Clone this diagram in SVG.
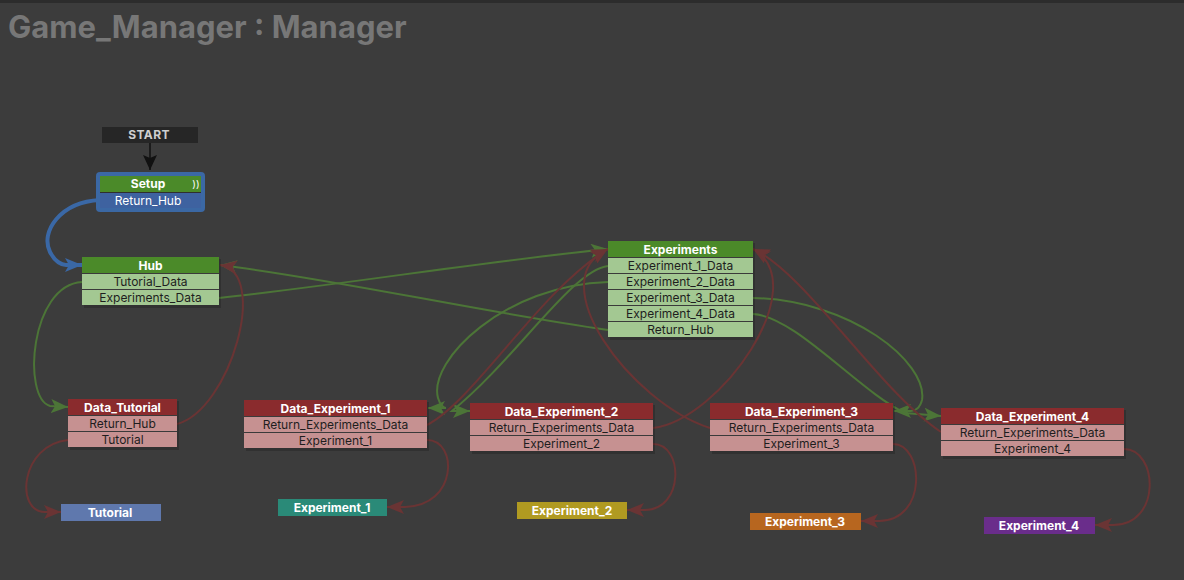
<svg xmlns="http://www.w3.org/2000/svg" width="1184" height="580" viewBox="0 0 1184 580">
<style>
text{font-family:Inter,"Noto Sans","Liberation Sans",sans-serif;text-anchor:middle}
.title{font-size:31px;font-weight:700;fill:#777;text-anchor:start}
.h{font-size:12px;font-weight:700;fill:#fff}
.r{font-size:12px;fill:#1e1e1e}
.rw{font-size:12px;fill:#fff}
.gh{fill:#4b8a29}
.gr{fill:#a3c892}
.rh{fill:#8a2b2d}
.rr{fill:#c69191}
.shadow{fill:#000;opacity:0.18}
.eg{fill:none;stroke:#4c7537;stroke-width:2}
.er{fill:none;stroke:#6a3434;stroke-width:2}
.eb{fill:none;stroke:#3a68a6;stroke-width:4}
.ek{fill:none;stroke:#111;stroke-width:1.5}
</style>
<defs>
<marker id="ag" markerUnits="userSpaceOnUse" markerWidth="18" markerHeight="14" refX="17" refY="7" orient="auto"><path d="M0,0 L17,7 L0,14 L4,7 Z" fill="#4c7537"/></marker>
<marker id="ar" markerUnits="userSpaceOnUse" markerWidth="18" markerHeight="14" refX="17" refY="7" orient="auto"><path d="M0,0 L17,7 L0,14 L4,7 Z" fill="#6a3434"/></marker>
<marker id="ab" markerUnits="userSpaceOnUse" markerWidth="18" markerHeight="14" refX="17" refY="7" orient="auto"><path d="M0,0 L17,7 L0,14 L4,7 Z" fill="#3a68a6"/></marker>
<marker id="ak" markerUnits="userSpaceOnUse" markerWidth="16" markerHeight="14" refX="15" refY="7" orient="auto"><path d="M0,0 L15,7 L0,14 L3,7 Z" fill="#111"/></marker>
</defs>
<rect x="0" y="0" width="1184" height="580" fill="#3c3c3c"/>
<rect x="0" y="0" width="1184" height="3" fill="#2c2c2c"/>
<text class="title" x="8" y="38">Game_Manager : Manager</text>

<g id="connectors">
<path class="ek" d="M150,143 L150,170" marker-end="url(#ak)"/>
<path class="eb" d="M100,200 C60,202 40,232 50,252 C55,262 62,265 66,265 L82,265" marker-end="url(#ab)"/>
<path class="eg" d="M82,282 C30,285 22,398 50,406 L68,407" marker-end="url(#ag)"/>
<path class="eg" d="M219,298 C340,285 480,262 608,249" marker-end="url(#ag)"/>
<path class="eg" d="M608,330 C470,310 340,280 220,265" marker-end="url(#ag)"/>
<path class="eg" d="M608,266 C572,270 515,360 452,411 L470,411" marker-end="url(#ag)"/>
<path class="eg" d="M608,282 C505,285 428,360 438,398 C440,405 444,408 446,408 L428,408" marker-end="url(#ag)"/>
<path class="eg" d="M753,298 C850,300 928,362 922,400 C920,408 915,411 911,411 L894,411" marker-end="url(#ag)"/>
<path class="eg" d="M753,314 C795,316 860,392 905,413 L941,416" marker-end="url(#ag)"/>
<path class="er" d="M177,424 C230,410 270,272 220,265" marker-end="url(#ar)"/>
<path class="er" d="M427,425 C475,400 540,290 608,249" marker-end="url(#ar)"/>
<path class="er" d="M710,428 C630,402 540,280 608,249" marker-end="url(#ar)"/>
<path class="er" d="M653,428 C720,420 815,285 753,249" marker-end="url(#ar)"/>
<path class="er" d="M941,432 C880,392 805,272 753,249" marker-end="url(#ar)"/>
<path class="er" d="M68,440 C20,445 15,512 45,512 L61,512" marker-end="url(#ar)"/>
<path class="er" d="M427,440 C458,440 458,506 405,507 L387,507" marker-end="url(#ar)"/>
<path class="er" d="M653,444 C684,444 684,510 645,510 L627,510" marker-end="url(#ar)"/>
<path class="er" d="M893,444 C924,444 928,521 879,521 L861,521" marker-end="url(#ar)"/>
<path class="er" d="M1124,449 C1158,449 1162,525 1113,525 L1095,525" marker-end="url(#ar)"/>
</g>

<g id="start">
<rect x="102" y="127" width="96" height="16" fill="#262626"/>
<text x="149" y="139" style="font-size:12px;font-weight:700;fill:#cfcfcf;letter-spacing:0.4px">START</text>
</g>

<g id="setup">
<rect x="96" y="172" width="109" height="40" rx="4" fill="#3b68a4"/>
<rect x="100" y="176" width="101" height="32" fill="#2f2f2f"/>
<rect x="100" y="176" width="101" height="16" class="gh"/>
<rect x="100" y="193" width="101" height="15" fill="#3e62a0"/>
<text class="h" x="148" y="188">Setup</text>
<text x="196" y="188" style="font-size:10px;fill:#fff">))</text>
<text class="rw" x="148" y="205">Return_Hub</text>
</g>

<g id="hub">
<rect class="shadow" x="84" y="259" width="137" height="49"/>
<rect x="82" y="257" width="137" height="48" fill="#3a3a3a"/>
<rect class="gh" x="82" y="257" width="137" height="16"/>
<rect class="gr" x="82" y="274" width="137" height="15"/>
<rect class="gr" x="82" y="290" width="137" height="15"/>
<text class="h" x="150.5" y="270">Hub</text>
<text class="r" x="150.5" y="286">Tutorial_Data</text>
<text class="r" x="150.5" y="302">Experiments_Data</text>
</g>

<g id="experiments">
<rect class="shadow" x="610" y="243" width="145" height="97"/>
<rect x="608" y="241" width="145" height="96" fill="#3a3a3a"/>
<rect class="gh" x="608" y="241" width="145" height="16"/>
<rect class="gr" x="608" y="258" width="145" height="15"/>
<rect class="gr" x="608" y="274" width="145" height="15"/>
<rect class="gr" x="608" y="290" width="145" height="15"/>
<rect class="gr" x="608" y="306" width="145" height="15"/>
<rect class="gr" x="608" y="322" width="145" height="15"/>
<text class="h" x="680.5" y="254">Experiments</text>
<text class="r" x="680.5" y="270">Experiment_1_Data</text>
<text class="r" x="680.5" y="286">Experiment_2_Data</text>
<text class="r" x="680.5" y="302">Experiment_3_Data</text>
<text class="r" x="680.5" y="318">Experiment_4_Data</text>
<text class="r" x="680.5" y="334">Return_Hub</text>
</g>

<g id="data_tutorial">
<rect class="shadow" x="70" y="401" width="109" height="49"/>
<rect x="68" y="399" width="109" height="48" fill="#3a3a3a"/>
<rect class="rh" x="68" y="399" width="109" height="16"/>
<rect class="rr" x="68" y="416" width="109" height="15"/>
<rect class="rr" x="68" y="432" width="109" height="15"/>
<text class="h" x="122.5" y="412">Data_Tutorial</text>
<text class="r" x="122.5" y="428">Return_Hub</text>
<text class="r" x="122.5" y="444">Tutorial</text>
</g>

<g id="data_experiment_1">
<rect class="shadow" x="246" y="402" width="183" height="49"/>
<rect x="244" y="400" width="183" height="48" fill="#3a3a3a"/>
<rect class="rh" x="244" y="400" width="183" height="16"/>
<rect class="rr" x="244" y="417" width="183" height="15"/>
<rect class="rr" x="244" y="433" width="183" height="15"/>
<text class="h" x="335.5" y="413">Data_Experiment_1</text>
<text class="r" x="335.5" y="429">Return_Experiments_Data</text>
<text class="r" x="335.5" y="445">Experiment_1</text>
</g>

<g id="data_experiment_2">
<rect class="shadow" x="472" y="405" width="183" height="49"/>
<rect x="470" y="403" width="183" height="48" fill="#3a3a3a"/>
<rect class="rh" x="470" y="403" width="183" height="16"/>
<rect class="rr" x="470" y="420" width="183" height="15"/>
<rect class="rr" x="470" y="436" width="183" height="15"/>
<text class="h" x="561.5" y="416">Data_Experiment_2</text>
<text class="r" x="561.5" y="432">Return_Experiments_Data</text>
<text class="r" x="561.5" y="448">Experiment_2</text>
</g>

<g id="data_experiment_3">
<rect class="shadow" x="712" y="405" width="183" height="49"/>
<rect x="710" y="403" width="183" height="48" fill="#3a3a3a"/>
<rect class="rh" x="710" y="403" width="183" height="16"/>
<rect class="rr" x="710" y="420" width="183" height="15"/>
<rect class="rr" x="710" y="436" width="183" height="15"/>
<text class="h" x="801.5" y="416">Data_Experiment_3</text>
<text class="r" x="801.5" y="432">Return_Experiments_Data</text>
<text class="r" x="801.5" y="448">Experiment_3</text>
</g>

<g id="data_experiment_4">
<rect class="shadow" x="943" y="410" width="183" height="49"/>
<rect x="941" y="408" width="183" height="48" fill="#3a3a3a"/>
<rect class="rh" x="941" y="408" width="183" height="16"/>
<rect class="rr" x="941" y="425" width="183" height="15"/>
<rect class="rr" x="941" y="441" width="183" height="15"/>
<text class="h" x="1032.5" y="421">Data_Experiment_4</text>
<text class="r" x="1032.5" y="437">Return_Experiments_Data</text>
<text class="r" x="1032.5" y="453">Experiment_4</text>
</g>

<g id="tutorial">
<rect x="61" y="504" width="100" height="17" fill="#5f78ad"/>
<text class="h" x="110" y="517">Tutorial</text>
</g>
<g id="experiment_1">
<rect x="278" y="499" width="109" height="17" fill="#2a8a78"/>
<text class="h" x="332" y="512">Experiment_1</text>
</g>
<g id="experiment_2">
<rect x="517" y="502" width="110" height="17" fill="#b09a21"/>
<text class="h" x="572" y="515">Experiment_2</text>
</g>
<g id="experiment_3">
<rect x="750" y="513" width="111" height="17" fill="#b7661f"/>
<text class="h" x="805" y="526">Experiment_3</text>
</g>
<g id="experiment_4">
<rect x="984" y="517" width="111" height="17" fill="#6a2d8b"/>
<text class="h" x="1039" y="530">Experiment_4</text>
</g>
</svg>
